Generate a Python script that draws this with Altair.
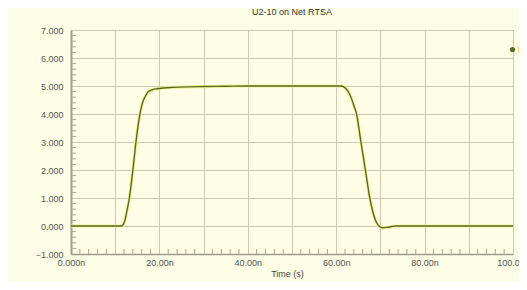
import altair as alt
import pandas as pd

# waveform (time in ns, voltage in V)
time_ns = [0, 11.5, 11.8, 12.2, 12.6, 13.2, 14.0, 14.7, 15.6, 16.0, 16.4, 17.0, 17.5,
           18.5, 19.4, 21, 23, 26, 30, 35, 40, 50, 60, 61, 61.8, 62.5, 63.2, 63.9,
           64.6, 65.6, 66.6, 67.6, 68.3, 68.9, 69.5, 70.0, 70.6, 71.5, 72.5, 73.5,
           75, 80, 90, 100]
volts = [0, 0, 0.05, 0.2, 0.5, 1.0, 2.0, 3.0, 4.0, 4.3, 4.5, 4.68, 4.8,
         4.87, 4.9, 4.93, 4.95, 4.97, 4.98, 4.99, 5.0, 5.0, 5.0, 5.0, 4.96, 4.85, 4.65, 4.35,
         4.0, 3.0, 2.0, 1.0, 0.5, 0.2, 0.03, -0.04, -0.06, -0.05, -0.02, 0.0,
         0.0, 0.0, 0.0, 0.0]
series_name = "U2-10"

x_major = [0, 10, 20, 30, 40, 50, 60, 70, 80, 90, 100]
y_major = [-1, 0, 1, 2, 3, 4, 5, 6, 7]
x_minor = [2, 4, 6, 8, 12, 14, 16, 18, 22, 24, 26, 28, 32, 34, 36, 38, 42, 44, 46, 48,
           52, 54, 56, 58, 62, 64, 66, 68, 72, 74, 76, 78, 82, 84, 86, 88, 92, 94, 96, 98]
y_minor = [-0.8, -0.6, -0.4, -0.2, 0.2, 0.4, 0.6, 0.8, 1.2, 1.4, 1.6, 1.8, 2.2, 2.4, 2.6, 2.8,
           3.2, 3.4, 3.6, 3.8, 4.2, 4.4, 4.6, 4.8, 5.2, 5.4, 5.6, 5.8, 6.2, 6.4, 6.6, 6.8]

df = pd.DataFrame({"t": time_ns, "v": volts, "series": series_name})
dfx = pd.DataFrame({"t": x_minor})
dfy = pd.DataFrame({"v": y_minor})

BG = "#FEFDE6"
GRID = "#CBC8B2"
FONT = "Liberation Sans"

W, H = 442, 224

xscale = alt.Scale(domain=[0, 100], nice=False)
yscale = alt.Scale(domain=[-1, 7], nice=False)

xaxis = alt.Axis(
    values=x_major,
    labelExpr="datum.value % 20 == 0 ? (datum.value == 0 ? '0.000n' : format(datum.value, '.2f') + 'n') : ''",
    title="Time (s)", titleFontSize=9, titleFontWeight="normal", titleColor="#444",
    titleFont=FONT, titlePadding=2, titleX=216, titleAnchor="middle",
    labelFont=FONT, labelFontSize=9, labelColor="#555", labelPadding=4,
    ticks=False, grid=True, gridColor=GRID, gridWidth=1,
    domainColor="#9E9C8C", domainWidth=1.5, labelFlush=False, labelOverlap=False,
)
yaxis = alt.Axis(
    values=y_major, format=".3f", title=None,
    labelFont=FONT, labelFontSize=9, labelColor="#555", labelPadding=8,
    ticks=False, grid=True, gridColor=GRID, gridWidth=1,
    domainColor="#9E9C8C", domainWidth=2, labelOverlap=False,
)

base = alt.Chart(df)

glow = base.mark_line(color="#EEF28C", strokeWidth=3.2, opacity=0.9, interpolate="monotone").encode(
    x=alt.X("t:Q", scale=xscale, axis=xaxis),
    y=alt.Y("v:Q", scale=yscale, axis=yaxis),
)
line = base.mark_line(strokeWidth=1.4, interpolate="monotone").encode(
    x=alt.X("t:Q", scale=xscale, axis=xaxis),
    y=alt.Y("v:Q", scale=yscale, axis=yaxis),
    color=alt.Color("series:N", scale=alt.Scale(range=["#5A6A22"]),
                    legend=alt.Legend(orient="none", legendX=437, legendY=15, title=None,
                                      symbolType="circle", symbolSize=14, symbolFillColor="#5A6A22",
                                      labelFont=FONT, labelFontSize=9, labelColor="#5A6A22",
                                      labelOffset=1)),
)

xticks = alt.Chart(dfx).mark_rule(color="#A9A795", strokeWidth=1).encode(
    x=alt.X("t:Q", scale=xscale, axis=xaxis), y=alt.value(H), y2=alt.value(H - 5)
)
yticks = alt.Chart(dfy).mark_rule(color="#A9A795", strokeWidth=1).encode(
    y=alt.Y("v:Q", scale=yscale, axis=yaxis), x=alt.value(0), x2=alt.value(5)
)

chart = alt.layer(glow, xticks, yticks, line).properties(
    width=W, height=H,
    title=alt.TitleParams("U2-10 on Net RTSA", fontSize=9, font=FONT, fontWeight="normal",
                          color="#333", anchor="middle", offset=9),
    autosize=alt.AutoSizeParams(type="none"),
    padding={"left": 63, "top": 22, "right": 6, "bottom": 28},
).configure(background=BG).configure_view(fill=BG, stroke=None)

chart.save("out.html", embed_options={"renderer": "svg", "actions": False})
